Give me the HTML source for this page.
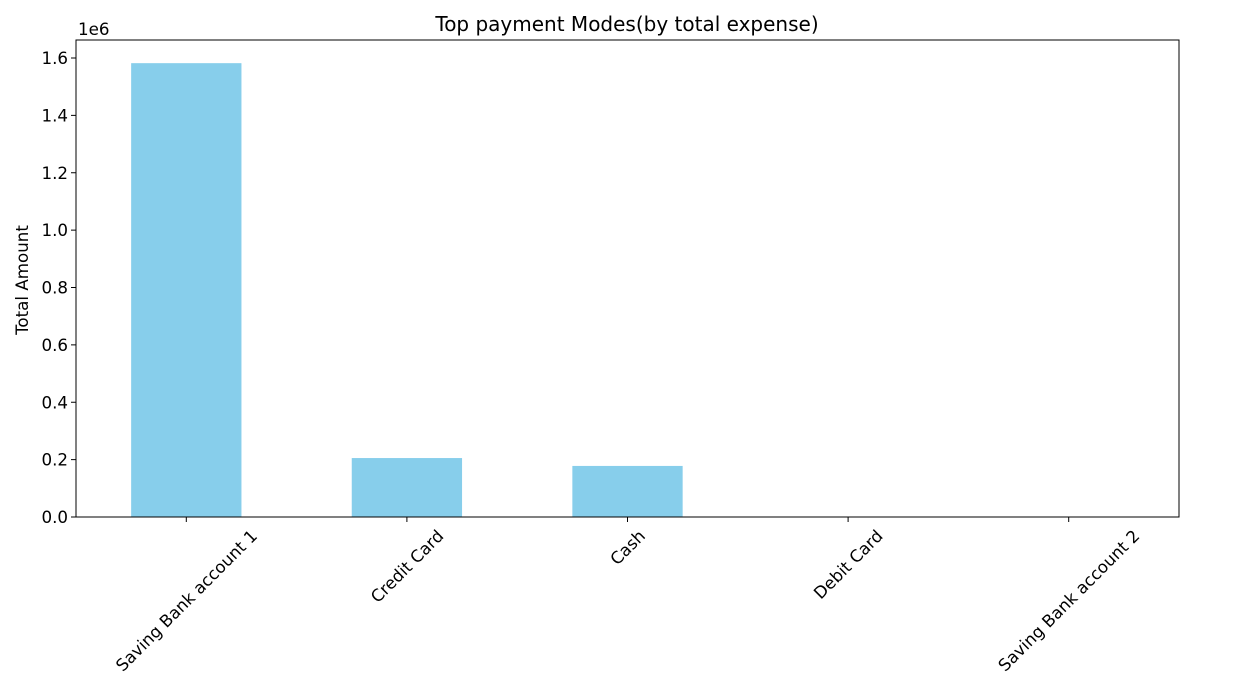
<!DOCTYPE html>
<html><head><meta charset="utf-8"><style>
html,body{margin:0;padding:0;background:#fff;}
svg{display:block;font-family:"DejaVu Sans","Liberation Sans",sans-serif;}
</style></head><body>
<svg id="chart" width="1259" height="682"></svg>
<script>
const categories = ["Saving Bank account 1","Credit Card","Cash","Debit Card","Saving Bank account 2"];
const values = [1582000, 205500, 178000, 1500, 500];
const yTicks = [0, 0.2, 0.4, 0.6, 0.8, 1.0, 1.2, 1.4, 1.6];
const yTickLabels = ["0.0","0.2","0.4","0.6","0.8","1.0","1.2","1.4","1.6"];

const NS = "http://www.w3.org/2000/svg";
const svg = document.getElementById("chart");
const L = 76, R = 1179, T = 40, B = 517;
const FS = 16.7;
const yMax = 1.6 * 1e6 * (B - T) / (B - 58);
function yScale(v){ return B - v / yMax * (B - T); }
const band = (R - L) / categories.length;
function xCenter(i){ return L + band * (i + 0.5); }
function mk(tag, attrs, parent){
  const e = document.createElementNS(NS, tag);
  for (const k in attrs) e.setAttribute(k, attrs[k]);
  (parent || svg).appendChild(e);
  return e;
}
values.forEach((v, i) => {
  const y = yScale(v);
  const r = mk("rect", {x: xCenter(i) - band * 0.25, y: y, width: band * 0.5, height: B - y, fill: "#87ceeb"});
  
  
});
const fr = mk("rect", {x: L, y: T, width: R - L, height: B - T, fill: "none", stroke: "#000", "stroke-width": 1});


yTicks.forEach((t, i) => {
  const y = yScale(t * 1e6);
  mk("line", {x1: L - 5, x2: L, y1: y, y2: y, stroke: "#000"});
  const tx = mk("text", {x: L - 8, y: y + 6, "text-anchor": "end", "font-size": FS, fill: "#000"});
  tx.textContent = yTickLabels[i];
  
  
});
categories.forEach((c, i) => {
  const x = xCenter(i);
  mk("line", {x1: x, x2: x, y1: B, y2: B + 5, stroke: "#000"});
  const tx = mk("text", {x: 0, y: 6, "text-anchor": "middle", "font-size": FS, fill: "#000"});
  tx.textContent = c;
  
  
  const len = tx.getComputedTextLength();
  const half = (len + 19) * 0.7071 / 2;
  tx.setAttribute('transform', `translate(${x},${B + 9 + half}) rotate(-45)`);
});
</script>
<svg style="position:absolute;left:0;top:0" width="1259" height="682">
  <text x="627" y="31" text-anchor="middle" font-size="20">Top payment Modes(by total expense)</text>
  <text x="78" y="35" font-size="16.7">1e6</text>
  <text transform="translate(28,280) rotate(-90)" text-anchor="middle" font-size="16.7">Total Amount</text>
</svg>
</body></html>
